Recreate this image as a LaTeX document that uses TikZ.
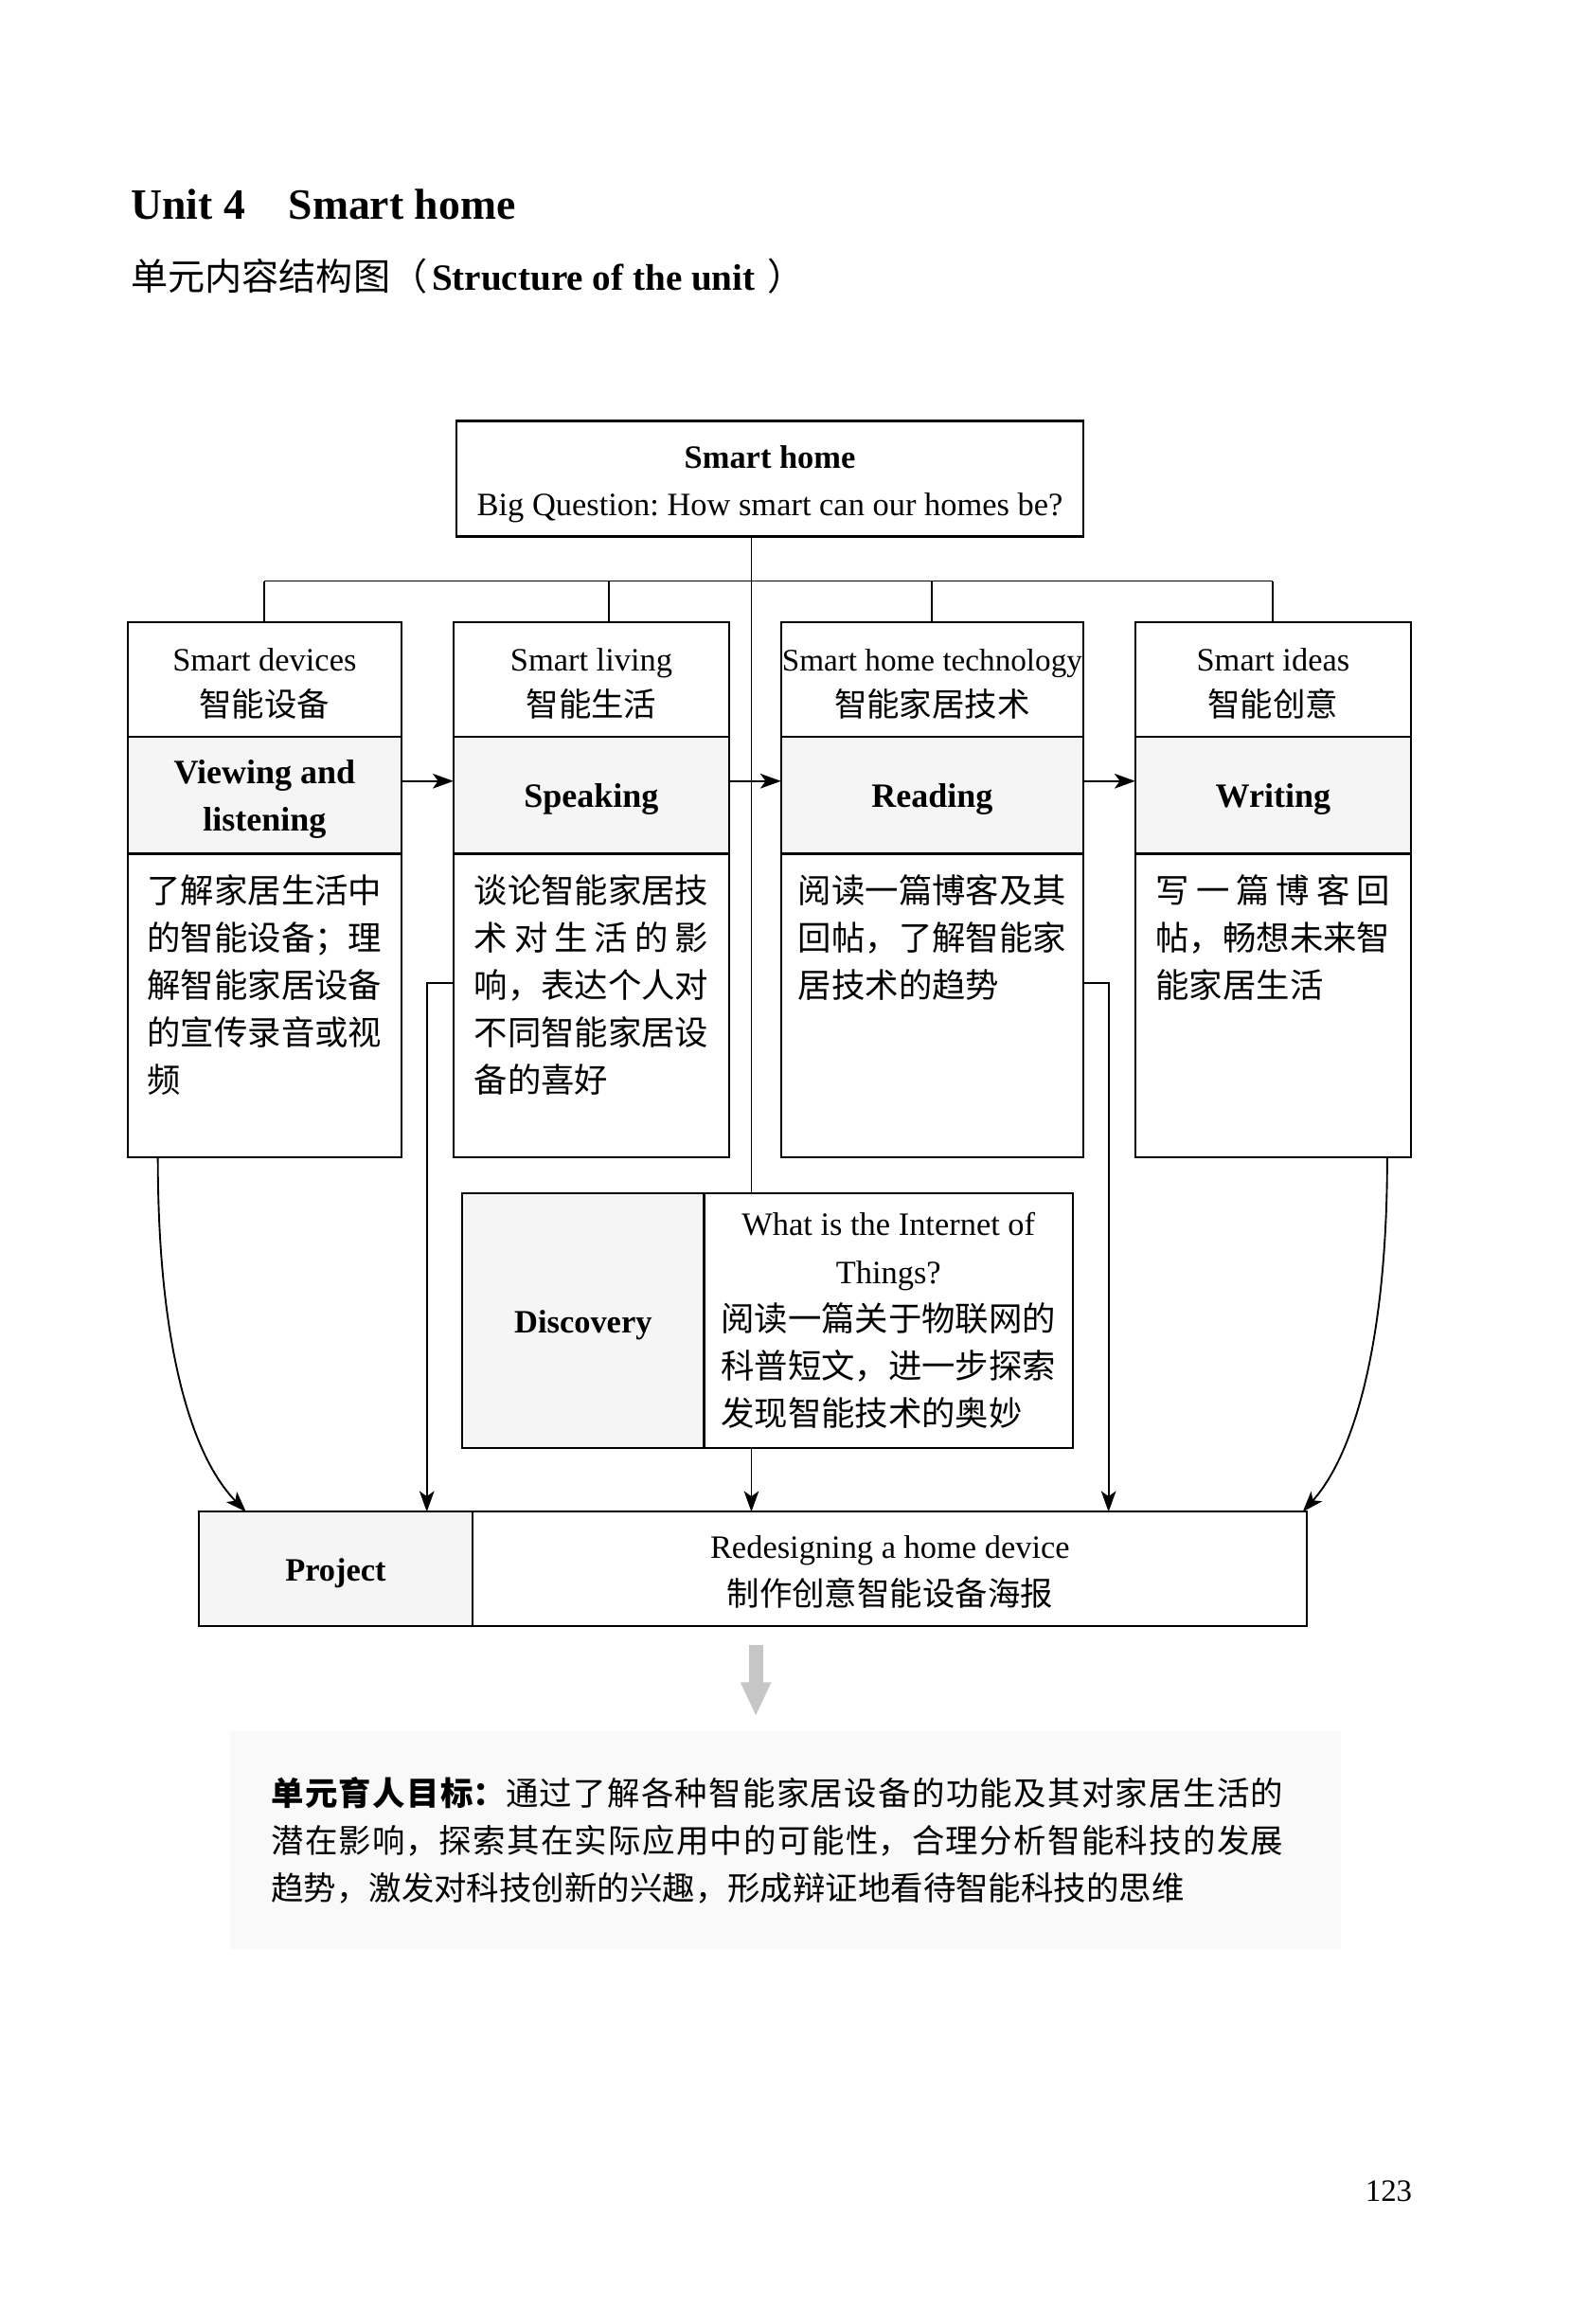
\documentclass[tikz,border=0pt]{standalone}
\usepackage{fontspec}
\setmainfont{Liberation Serif}
\newfontfamily\cjk{Noto Sans CJK SC}
\usetikzlibrary{positioning,arrows.meta}
\frenchspacing

% one row of CJK text spread over the full line
\newcommand{\spreadrow}[1]{\makebox[7em][s]{#1}}
% task text in the lower part of a column
\newcommand{\tasklines}[2]{\parbox[c][102.5pt][t]{#1}{\cjk\fontsize{11.3}{16}\selectfont\vspace*{7pt}#2}}
% invisible strut that lowers the text of a box a little
\newcommand{\lift}[1][10.5pt]{\rule{0pt}{#1}}

\begin{document}
\begin{tikzpicture}[
    x=0.5pt, y=-0.5pt,
    lowtext/.style={execute at begin node={\lift}},
    topbox/.style={
        draw,
        line width=0.7pt,
        minimum width=211.5pt,
        minimum height=39pt,
        inner sep=0pt, outer sep=0pt,
        align=center,
        font=\fontsize{11}{16}\selectfont
    },
    headbox/.style={
        draw,
        line width=0.7pt,
        minimum height=38.5pt,
        inner sep=0pt, outer sep=0pt,
        align=center,
        lowtext,
        font=\fontsize{11}{15.5}\selectfont
    },
    skillbox/.style={
        headbox,
        fill=gray!8,
        minimum height=39.5pt,
        font=\bfseries\fontsize{11.5}{16}\selectfont
    },
    taskbox/.style={
        draw,
        line width=0.7pt,
        minimum height=102.5pt,
        inner sep=0pt, outer sep=0pt
    },
    greycell/.style={
        draw,
        line width=0.7pt,
        fill=gray!8,
        inner sep=0pt, outer sep=0pt,
        lowtext,
        font=\bfseries\fontsize{11}{16}\selectfont
    },
    whitecell/.style={
        draw,
        line width=0.7pt,
        inner sep=0pt, outer sep=0pt,
        font=\fontsize{11}{16}\selectfont
    },
    arrow/.style={-{Stealth[length=7pt,width=5pt,inset=1.8pt]}, line width=0.6pt},
    link/.style={line width=0.6pt},
    bigarrow/.style={-{Triangle[length=11.5pt,width=9.5pt]}, line width=4.8pt, draw=gray!45}
]
\useasboundingbox (0,0) rectangle (1072,1568);

%==========================
% Heading
%==========================
\node[anchor=base west, inner sep=0pt, font=\bfseries\fontsize{14.6}{18}\selectfont]
    (title) at (88,148) {Unit 4\quad Smart home};
\node[anchor=base west, inner sep=0pt, font=\fontsize{12.5}{15}\selectfont]
    (subtitle) at (88,196) {{\cjk 单元内容结构图（}\hspace{1.5pt}\textbf{Structure of the unit}\hspace{4pt}{\cjk ）}};

%==========================
% Big question
%==========================
\node[topbox] (top) at (519.5,323)
{\lift[11.5pt]\textbf{Smart home}\\Big Question: How smart can our homes be?};
\coordinate (bus) at (507,392);

%==========================
% Four columns
%==========================
\node[headbox, minimum width=92.5pt] (devices) at (178.5,458.5) {\lift Smart devices\\{\cjk 智能设备}};
\node[skillbox, minimum width=92.5pt, below=0pt of devices] (viewing) {\lift Viewing and\\listening};
\node[taskbox, minimum width=92.5pt, below=0pt of viewing] (devtext)
{\tasklines{79.1pt}{了解家居生活中\\的智能设备；理\\解智能家居设备\\的宣传录音或视\\频}};

\node[headbox, minimum width=93pt] (living) at (399,458.5) {\lift Smart living\\{\cjk 智能生活}};
\node[skillbox, minimum width=93pt, below=0pt of living] (speaking) {Speaking};
\node[taskbox, minimum width=93pt, below=0pt of speaking] (speaktext)
{\tasklines{79.1pt}{谈论智能家居技\\\spreadrow{术\hfill 对\hfill 生\hfill 活\hfill 的\hfill 影}\\响，表达个人对\\不同智能家居设\\备的喜好}};

\node[headbox, minimum width=102pt] (tech) at (629,458.5)
{\lift{\fontsize{10.6}{15.5}\selectfont Smart home technology}\\{\cjk 智能家居技术}};
\node[skillbox, minimum width=102pt, below=0pt of tech] (reading) {Reading};
\node[taskbox, minimum width=102pt, below=0pt of reading] (techtext)
{\tasklines{90.4pt}{阅读一篇博客及其\\回帖，了解智能家\\居技术的趋势}};

\node[headbox, minimum width=93pt] (ideas) at (859,458.5) {\lift Smart ideas\\{\cjk 智能创意}};
\node[skillbox, minimum width=93pt, below=0pt of ideas] (writing) {Writing};
\node[taskbox, minimum width=93pt, below=0pt of writing] (ideatext)
{\tasklines{79.1pt}{\spreadrow{写\hfill 一\hfill 篇\hfill 博\hfill 客\hfill 回}\\帖，畅想未来智\\能家居生活}};

%==========================
% Discovery and project
%==========================
\node[greycell, minimum width=81.5pt, minimum height=86pt] (disclabel) at (393.5,891) {Discovery};
\node[whitecell, minimum width=124.5pt, minimum height=86pt, right=0pt of disclabel, align=left] (disctext)
{\makebox[113pt]{What is the Internet of}\\\makebox[113pt]{Things?}\\
 {\cjk\fontsize{11.3}{16}\selectfont 阅读一篇关于物联网的}\\
 {\cjk\fontsize{11.3}{16}\selectfont 科普短文，进一步探索}\\
 {\cjk\fontsize{11.3}{16}\selectfont 发现智能技术的奥妙}};

\node[greycell, minimum width=92.5pt, minimum height=38.5pt] (projlabel) at (226.5,1058.5) {Project};
\node[whitecell, minimum width=281.5pt, minimum height=38.5pt, right=0pt of projlabel, align=center] (projtext)
{\lift[9.5pt]Redesigning a home device\\{\cjk 制作创意智能设备海报}};

%==========================
% Links
%==========================
\draw[link] (devices.north |- bus) -- (ideas.north |- bus);
\draw[link] (devices.north) -- (devices.north |- bus);
\draw[link] ([xshift=6pt]living.north) -- ++(0,14pt);
\draw[link] (tech.north) -- (tech.north |- bus);
\draw[link] (ideas.north) -- (ideas.north |- bus);
\draw[link] (top.south -| bus) -- (disctext.north -| bus);

\draw[arrow] ([yshift=4.75pt]viewing.east) -- ([yshift=4.75pt]speaking.west);
\draw[arrow] ([yshift=4.75pt]speaking.east) -- ([yshift=4.75pt]reading.west);
\draw[arrow] ([yshift=4.75pt]reading.east) -- ([yshift=4.75pt]writing.west);

\draw[arrow] ([xshift=-36pt]devtext.south) .. controls +(0,-60pt) and +(-19.5pt,20pt) .. ([xshift=16pt]projlabel.north west);
\draw[arrow] ([yshift=7.5pt]speaktext.west) -| ([xshift=-15.5pt]projlabel.north east);
\draw[arrow] (disctext.south -| bus) -- (projtext.north -| bus);
\draw[arrow] ([yshift=7.5pt]techtext.east) -| ([xshift=-67pt]projtext.north east);
\draw[arrow] ([xshift=38.5pt]ideatext.south) .. controls +(0,-60pt) and +(18pt,20pt) .. ([xshift=-1.5pt]projtext.north east);

%==========================
% Unit goal
%==========================
\node[fill=gray!5, minimum width=375pt, minimum height=73.5pt, inner xsep=14pt, inner ysep=0pt,
      text width=347pt, align=justify, font=\cjk\fontsize{11}{16}\selectfont] (goal) at (530,1241.5)
{\XeTeXlinebreaklocale "zh"\XeTeXlinebreakskip=0pt plus 1pt
 \parbox{341.5pt}{\XeTeXlinebreaklocale "zh"\XeTeXlinebreakskip=0pt plus 1pt
 {\bfseries 单元育人目标：}通过了解各种智能家居设备的功能及其对家居生活的\linebreak
 潜在影响，探索其在实际应用中的可能性，合理分析智能科技的发展\linebreak
 趋势，激发对科技创新的兴趣，形成辩证地看待智能科技的思维}};

\coordinate (downtop) at (510,1110);
\coordinate (downtip) at (510,1158);
\draw[bigarrow] (downtop) -- (downtip);

\node[anchor=base, inner sep=0pt, font=\fontsize{10.5}{12}\selectfont] (pagenum) at (937,1485) {123};

\end{tikzpicture}
\end{document}
